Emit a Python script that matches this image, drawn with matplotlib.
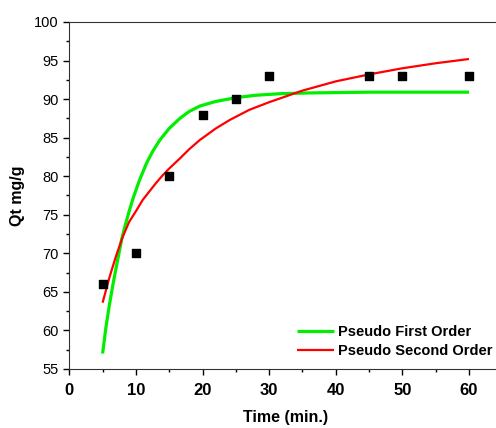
import numpy as np
import matplotlib
matplotlib.use('Agg')
import matplotlib.pyplot as plt
from matplotlib.ticker import MultipleLocator

plt.rcParams['font.family'] = ['Liberation Sans', 'DejaVu Sans']

# experimental points
time_exp = [5, 10, 15, 20, 25, 30, 45, 50, 60]
qt_exp = [66, 70, 80, 88, 90, 93, 93, 93, 93]

# fitted curves
pfo_t = [5, 5.5, 6, 6.5, 7, 7.86, 8.35, 9, 9.6, 10.5, 11.6, 12.5, 13.6, 15, 16.6, 18,
         19.6, 22, 25.1, 28, 31.6, 36, 45, 60]
pfo_q = [57.0, 60.4, 63.2, 65.7, 68.0, 71.8, 73.5, 75.5, 77.2, 79.4, 81.7, 83.2, 84.7, 86.2,
         87.5, 88.4, 89.1, 89.7, 90.2, 90.5, 90.7, 90.8, 90.9, 90.9]

pso_t = [5, 6, 7, 8, 9, 10.1, 11, 12, 13, 14, 15, 16.6, 18, 19.6, 22, 24.1, 27, 30, 32, 35,
         40, 45, 50, 55, 60]
pso_q = [63.6, 66.8, 69.6, 72.1, 74.1, 75.6, 76.9, 78.0, 79.1, 80.1, 81.0, 82.3, 83.5, 84.7,
         86.2, 87.3, 88.6, 89.6, 90.2, 91.1, 92.3, 93.2, 94.0, 94.65, 95.2]

fig = plt.figure(figsize=(4.96, 4.28), dpi=100)
ax = fig.add_axes([0.1397, 0.1379, 0.873, 0.8107])

ax.plot(pfo_t, pfo_q, color='#00ee00', lw=2.3, label='Pseudo First Order',
        solid_capstyle='butt', solid_joinstyle='round')
ax.plot(pso_t, pso_q, color='#ff0000', lw=1.6, label='Pseudo Second Order',
        solid_capstyle='butt', solid_joinstyle='round')
ax.scatter(time_exp, qt_exp, marker='s', s=30, color='black', zorder=3)

ax.set_xlim(0, 65)
ax.set_ylim(55, 100)
ax.xaxis.set_major_locator(MultipleLocator(10))
ax.xaxis.set_minor_locator(MultipleLocator(5))
ax.yaxis.set_major_locator(MultipleLocator(5))
ax.yaxis.set_minor_locator(MultipleLocator(2.5))
ax.tick_params(which='major', direction='out', length=4, width=1)
ax.tick_params(which='minor', direction='out', length=2.5, width=1)
ax.tick_params(axis='y', labelsize=10.5)
ax.tick_params(axis='x', labelsize=12, pad=6)
for lab in ax.get_xticklabels():
    lab.set_fontweight('bold')
for sp in ax.spines.values():
    sp.set_color('#333333')

ax.set_xlabel('Time (min.)', fontsize=11.5, fontweight='bold', labelpad=9)
ax.set_ylabel('Qt mg/g', fontsize=11.5, fontweight='bold', labelpad=7)

leg = ax.legend(loc='lower right', bbox_to_anchor=(1.008, -0.006), frameon=False,
                prop={'size': 10.5, 'weight': 'bold'}, handlelength=2.5, handletextpad=0.3,
                labelspacing=0.35)

fig.savefig('out.png', dpi=100)
